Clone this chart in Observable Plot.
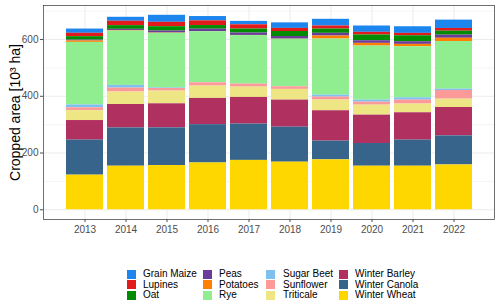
<!DOCTYPE html>
<html>
<head>
<meta charset="utf-8">
<script src="https://cdn.jsdelivr.net/npm/d3@7"></script>
<script src="https://cdn.jsdelivr.net/npm/@observablehq/plot@0.6"></script>
<style>
  html, body { margin: 0; padding: 0; background: #fff; }
  #wrap { position: relative; width: 500px; height: 305px; font-family: "Liberation Sans", Arial, sans-serif; }
  #legend { position: absolute; left: 0; top: 0; width: 500px; height: 305px; pointer-events: none; }
  .key { position: absolute; width: 9px; height: 9px; }
  .lab { position: absolute; font-size: 10px; line-height: 10px; color: #000; white-space: nowrap; }
</style>
</head>
<body>
<div id="wrap"><div id="chart"></div><div id="legend"></div></div>
<script>
const years = ["2013","2014","2015","2016","2017","2018","2019","2020","2021","2022"];
const crops = ["Grain Maize","Lupines","Oat","Peas","Potatoes","Rye","Sugar Beet","Sunflower","Triticale","Winter Barley","Winter Canola","Winter Wheat"];
const colors = ["#1C86EE","#E31A1C","#008B00","#6A3D9A","#FF7F00","#90EE90","#7EC0EE","#FB9A99","#EEE685","#B03060","#36648B","#FFD700"];
// stacking order, bottom to top
const stackOrder = ["Winter Wheat","Winter Canola","Winter Barley","Triticale","Sunflower","Sugar Beet","Rye","Potatoes","Peas","Oat","Lupines","Grain Maize"];

const winterWheat  = [122, 153.5, 156, 165, 174, 167.7, 176, 153.5, 153.5, 158];
const winterCanola = [123.5, 135, 132.7, 135, 128, 123.5, 66, 80, 92, 102.5];
const winterBarley = [69, 82.5, 84.8, 92.5, 94, 95.3, 107, 100, 96.4, 100];
const triticale    = [35, 44, 44.8, 43.5, 36.4, 37.8, 37.7, 35.3, 30.7, 29.3];
const sunflower    = [10, 14, 9, 11.5, 10.6, 9.2, 10.6, 10.6, 14, 30.7];
const sugarBeet    = [10, 9.5, 2, 0.5, 0, 0, 7, 7, 8, 4.7];
const rye          = [220.5, 191.5, 192.7, 179.6, 171, 167.5, 197.5, 190.6, 180.1, 167.8];
const potatoes     = [5, 2, 1, 0.5, 0.5, 0.5, 10.6, 9.6, 8.3, 11.5];
const peas         = [3, 4, 7, 8.4, 8.5, 9.3, 9.6, 9.2, 9.3, 11];
const oat          = [12, 13, 15.3, 12.8, 14, 17.5, 15, 20.2, 21, 14];
const lupines      = [12, 15.5, 15.5, 16.6, 15, 11, 10.7, 9.5, 8.5, 9.6];
const grainMaize   = [15, 14, 24.7, 15.2, 12, 19.5, 23.7, 22.2, 23.3, 29.4];

const yMajor = [0, 200, 400, 600];
const yMinor = [100, 300, 500, 700];

const series = {
  "Grain Maize": grainMaize, "Lupines": lupines, "Oat": oat, "Peas": peas,
  "Potatoes": potatoes, "Rye": rye, "Sugar Beet": sugarBeet, "Sunflower": sunflower,
  "Triticale": triticale, "Winter Barley": winterBarley, "Winter Canola": winterCanola,
  "Winter Wheat": winterWheat
};
const data = [];
for (const c of crops) years.forEach((y, i) => data.push({year: y, crop: c, value: series[c][i]}));

const chart = Plot.plot({
  width: 500,
  height: 245,
  marginTop: 5,
  marginBottom: 26,
  marginLeft: 43,
  marginRight: 6,
  style: {fontFamily: "'Liberation Sans', Arial, sans-serif", background: "#fff"},
  x: {type: "band", domain: years, paddingInner: 0.1, paddingOuter: 0.49, align: 0.5, label: null},
  y: {domain: [-34.3, 720], label: null},
  color: {domain: crops, range: colors},
  marks: [
    Plot.ruleY(yMinor, {stroke: "#EBEBEB", strokeWidth: 0.5}),
    Plot.ruleY(yMajor, {stroke: "#EBEBEB", strokeWidth: 1}),
    Plot.ruleX(years, {x: d => d, stroke: "#EBEBEB", strokeWidth: 1}),
    Plot.barY(data, {x: "year", y: "value", fill: "crop", z: "crop", order: stackOrder, inset: 0}),
    Plot.frame({stroke: "#333333", strokeWidth: 0.7}),
    Plot.axisX({tickSize: 3, tickPadding: 3, fontSize: 10, color: "#4D4D4D", label: null}),
    Plot.axisY(yMajor, {tickSize: 3, tickPadding: 2, fontSize: 10, color: "#4D4D4D", label: null}),
    Plot.text(["Cropped area [10³ ha]"], {frameAnchor: "left", dx: -28, rotate: -90, fontSize: 14, fill: "#000", textAnchor: "middle"})
  ]
});
document.getElementById("chart").appendChild(chart);

// legend (column-major, 3 rows)
const legend = document.getElementById("legend");
const colKeyX = [127, 203, 266, 339];
const colTextX = [143, 219, 283, 355];
crops.forEach((c, i) => {
  const col = Math.floor(i / 3), row = i % 3;
  const top = 269.5 + row * 10.7;
  const k = document.createElement("div");
  k.className = "key";
  k.style.left = colKeyX[col] + "px";
  k.style.top = top + "px";
  k.style.background = colors[i];
  legend.appendChild(k);
  const t = document.createElement("div");
  t.className = "lab";
  t.textContent = c;
  t.style.left = colTextX[col] + "px";
  t.style.top = (top - 0.5) + "px";
  legend.appendChild(t);
});
</script>
</body>
</html>
